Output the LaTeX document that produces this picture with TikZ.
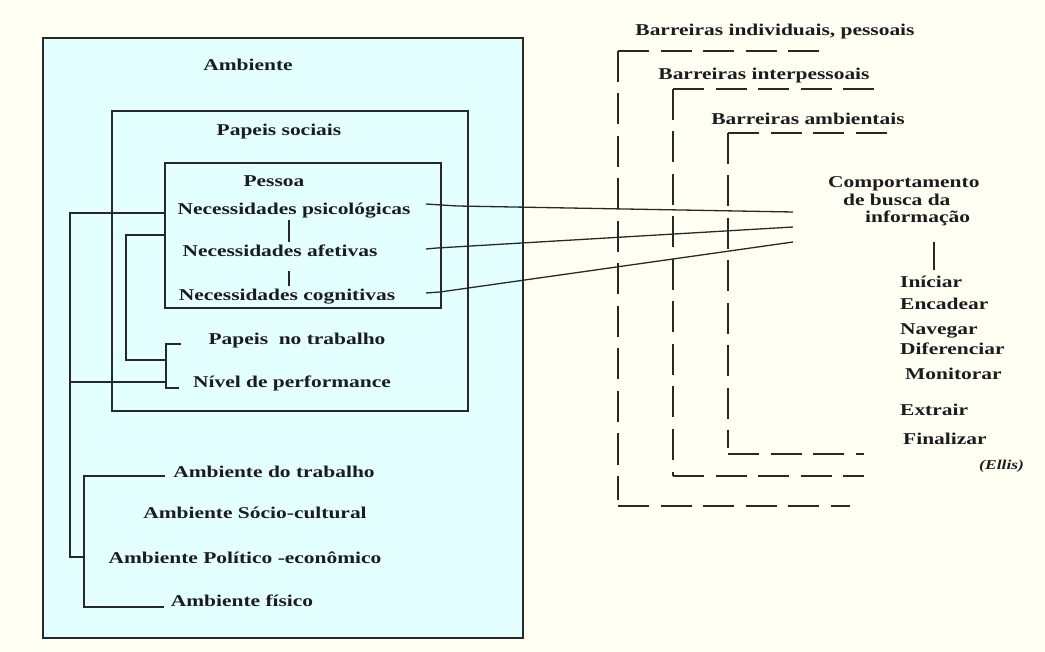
\documentclass[tikz,border=0pt]{standalone}
\usepackage{fontspec}
\setmainfont{Liberation Serif}[FakeStretch=1.3]
\usetikzlibrary{calc}
\definecolor{paper}{RGB}{255,255,244}
\definecolor{pale}{RGB}{228,255,255}
\definecolor{ink}{RGB}{28,28,32}
\definecolor{rule}{RGB}{40,40,40}
\tikzset{
  box/.style={draw=rule, line width=1.6pt, fill=pale, inner sep=0pt, anchor=north west},
  lbl/.style={font=\bfseries\fontsize{16.5}{18}\selectfont, text=ink, inner sep=0pt, anchor=base},
  lblw/.style={lbl, anchor=base west},
  link/.style={draw=rule, line width=1.3pt},
  barrier/.style={draw=rule, line width=1.8pt, dash pattern=on 31pt off 11.5pt}
}
\begin{document}
\begin{tikzpicture}[x=1pt,y=-1pt]
\useasboundingbox (0,0) rectangle (1045,652);
\fill[paper] (0,0) rectangle (1045,652);

% nested context boxes
\node[box, minimum width=480pt, minimum height=600pt] (ambbox) at (42,37) {};
\node[box, minimum width=356pt, minimum height=300pt] (papbox) at (111,110) {};
\node[box, minimum width=276pt, minimum height=145pt] (pesbox) at (164,162) {};

% left-hand labels
\node[lbl] (amb) at (248,71) {Ambiente};
\node[lbl] (papsoc) at (279,136) {Papeis sociais};
\node[lbl] (pessoa) at (274,187) {Pessoa};
\node[lbl] (psic) at (294,215) {Necessidades psicológicas};
\node[lbl] (afet) at (280,257) {Necessidades afetivas};
\node[lbl] (cogn) at (287,301) {Necessidades cognitivas};
\node[lbl] (paptrab) at (297,345) {Papeis\ \ no trabalho};
\node[lbl] (nivel) at (292,388) {Nível de performance};
\node[lbl] (ambtrab) at (274,477) {Ambiente do trabalho};
\node[lbl] (ambsoc) at (255,518) {Ambiente Sócio-cultural};
\node[lbl] (ambpol) at (245,563) {Ambiente Político -econômico};
\node[lbl] (ambfis) at (242,606) {Ambiente físico};

% barrier labels
\node[lbl] (bind) at (775,36) {Barreiras individuais, pessoais};
\node[lbl] (binter) at (764,80) {Barreiras interpessoais};
\node[lbl] (bamb) at (808,125) {Barreiras ambientais};

% information seeking behaviour
\node[lblw] (comp1) at (828,188) {Comportamento};
\node[lblw] (comp2) at (843,206) {de busca da};
\node[lblw] (comp3) at (865,223) {informação};
\node[lblw] (iniciar) at (900,288) {Iníciar};
\node[lblw] (encadear) at (900,310) {Encadear};
\node[lblw] (navegar) at (900,335) {Navegar};
\node[lblw] (diferenciar) at (900,355) {Diferenciar};
\node[lblw] (monitorar) at (905,380) {Monitorar};
\node[lblw] (extrair) at (900,416) {Extrair};
\node[lblw] (finalizar) at (903,444) {Finalizar};
\node[lblw, font=\bfseries\itshape\fontsize{13.5}{15}\selectfont] (ellis) at (979,469) {(Ellis)};

% short ticks between the needs
\coordinate (t1a) at (289,220); \coordinate (t1b) at (289,242);
\coordinate (t2a) at (289,271); \coordinate (t2b) at (289,286);
\draw[link] (t1a) -- (t1b);
\draw[link] (t2a) -- (t2b);
\coordinate (t3a) at (934,242); \coordinate (t3b) at (934,270);
\draw[link] (t3a) -- (t3b);

% needs linked to the seeking behaviour
\coordinate (n1) at (426,204); \coordinate (n1k) at (457,206); \coordinate (e1) at (793,212);
\coordinate (n2) at (426,249); \coordinate (n2k) at (437,248); \coordinate (e2) at (793,227);
\coordinate (n3) at (426,293); \coordinate (n3k) at (440,292); \coordinate (e3) at (793,242);
\draw[link] (n1) -- (n1k) -- (e1);
\draw[link] (n2) -- (n2k) -- (e2);
\draw[link] (n3) -- (n3k) -- (e3);

% bracket lines on the left
\coordinate (a1) at (pesbox.west |- 0,213);
\draw[link] (a1) -- (70,213) coordinate (a2) -- (70,557) coordinate (a3) -- (84,557);
\coordinate (b1) at (pesbox.west |- 0,235);
\draw[link] (b1) -- (126,235) -- (126,360) -- (166,360);
\draw[link] (70,382) -- (166,382);
\draw[link] ($(paptrab.base west)+(-27,-1)$) -- (166,344) -- (166,388) -- ($(nivel.base west)+(-14,0)$);
\draw[link] ($(ambtrab.base west)+(-8,-1)$) -- (84,476) -- (84,607) -- ($(ambfis.base west)+(-7,1)$);

% dashed barriers
\coordinate (bi) at (618,51);
\coordinate (bp) at (673,89);
\coordinate (ba) at (728,133);
\draw[barrier] (bi) -- (825,51);
\draw[barrier] (bi) -- (618,500);
\draw[barrier] (618,506) -- (850,506);
\draw[barrier] (bp) -- (880,89);
\draw[barrier] (bp) -- (673,476);
\draw[barrier] (673,476) -- (864,476);
\draw[barrier] (ba) -- (892,133);
\draw[barrier] (ba) -- (728,448);
\draw[barrier] (728,454) -- (864,454);
\end{tikzpicture}
\end{document}
